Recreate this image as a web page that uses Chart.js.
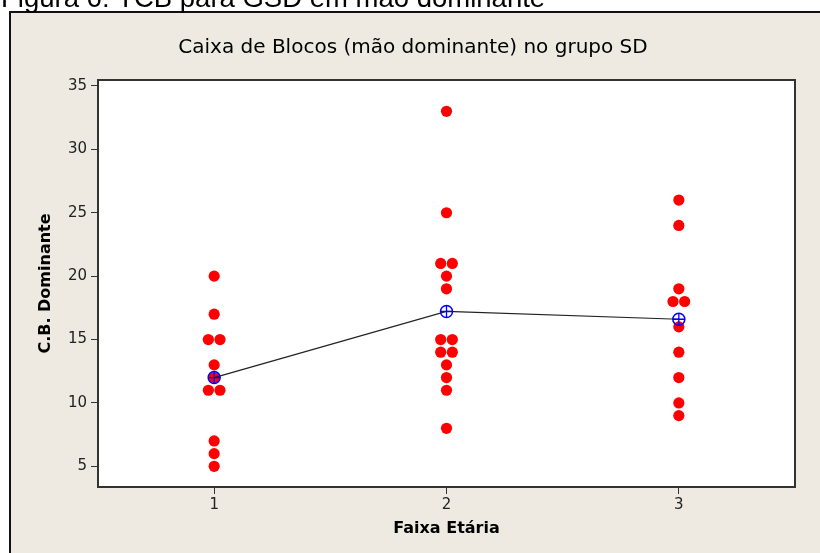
<!DOCTYPE html>
<html>
<head>
<meta charset="utf-8">
<script src="https://cdn.jsdelivr.net/npm/chart.js@4.4.0/dist/chart.umd.min.js"></script>
<style>
  html, body { margin: 0; padding: 0; background: #ffffff; }
  #wrap { width: 820px; height: 553px; position: relative; }
  canvas { display: block; }
</style>
</head>
<body>
<div id="wrap"><canvas id="c" width="820" height="553"></canvas></div>
<script>
// ---- data ----
const categories = [1, 2, 3];
const group1Values = [20, 17, 15, 15, 13, 12, 11, 11, 7, 6, 5];
const group2Values = [33, 25, 21, 21, 20, 19, 15, 15, 14, 14, 13, 12, 11, 8];
const group3Values = [26, 24, 19, 18, 18, 16, 14, 12, 10, 9];
const yTickValues = [5, 10, 15, 20, 25, 30, 35];
const xTickLabels = ['1', '2', '3'];

const captionText = 'Figura 6: TCB para GSD em mão dominante';
const chartTitle = 'Caixa de Blocos (mão dominante) no grupo SD';
const yAxisTitle = 'C.B. Dominante';
const xAxisTitle = 'Faixa Etária';

// ---- derived ----
const groups = [group1Values, group2Values, group3Values];
const means = groups.map(g => g.reduce((a, b) => a + b, 0) / g.length);

// side-by-side placement of equal values (dot-plot style)
const dupStep = 0.05;
const scatterPoints = [];
groups.forEach((vals, gi) => {
  const counts = {};
  vals.forEach(v => counts[v] = (counts[v] || 0) + 1);
  const seen = {};
  vals.forEach(v => {
    const k = counts[v];
    const i = seen[v] || 0;
    seen[v] = i + 1;
    scatterPoints.push({ x: categories[gi] + (i - (k - 1) / 2) * dupStep, y: v });
  });
});
const meanPoints = categories.map((c, i) => ({ x: c, y: means[i] }));

const FRAME_BG = '#EEEAE1';
const AXIS_COLOR = '#333333';

const framePlugin = {
  id: 'frame',
  beforeDraw(chart) {
    const ctx = chart.ctx;
    const W = chart.width, H = chart.height;
    ctx.save();
    ctx.fillStyle = '#ffffff';
    ctx.fillRect(0, 0, W, H);
    ctx.fillStyle = FRAME_BG;
    ctx.fillRect(10, 12, W - 10, H - 12);
    ctx.strokeStyle = '#111111';
    ctx.lineWidth = 2;
    ctx.beginPath();
    ctx.moveTo(10, H);
    ctx.lineTo(10, 12);
    ctx.lineTo(W, 12);
    ctx.stroke();
    // caption (cut at the top like the reference)
    ctx.fillStyle = '#000000';
    ctx.font = '27.5px "Liberation Sans", Arial, sans-serif';
    ctx.textBaseline = 'alphabetic';
    ctx.textAlign = 'left';
    ctx.fillText(captionText, 1, 7);
    // plot area background
    const a = chart.chartArea;
    ctx.fillStyle = '#ffffff';
    ctx.fillRect(a.left, a.top, a.right - a.left, a.bottom - a.top);
    // chart title
    ctx.fillStyle = '#000000';
    ctx.font = '20px "DejaVu Sans", sans-serif';
    ctx.textAlign = 'center';
    ctx.textBaseline = 'middle';
    ctx.fillText(chartTitle, 413, 48);
    ctx.restore();
  },
  afterDatasetsDraw(chart) {
    const ctx = chart.ctx;
    const a = chart.chartArea;
    ctx.save();
    ctx.strokeStyle = AXIS_COLOR;
    ctx.lineWidth = 2;
    ctx.beginPath();
    ctx.moveTo(a.left, a.top);
    ctx.lineTo(a.right, a.top);
    ctx.lineTo(a.right, a.bottom);
    ctx.stroke();
    ctx.restore();
  }
};

new Chart(document.getElementById('c'), {
  type: 'scatter',
  data: {
    datasets: [
      {
        label: 'mean cross',
        data: meanPoints,
        pointStyle: 'cross',
        pointRadius: 6,
        pointBorderColor: '#0000FF',
        pointBorderWidth: 1.3,
        showLine: false
      },
      {
        label: 'mean',
        data: meanPoints,
        showLine: true,
        borderColor: '#222222',
        borderWidth: 1.2,
        pointStyle: 'circle',
        pointRadius: 6,
        pointBackgroundColor: 'rgba(0,0,0,0)',
        pointBorderColor: '#0000FF',
        pointBorderWidth: 1.5,
        tension: 0
      },
      {
        label: 'values',
        data: scatterPoints,
        pointRadius: 5.6,
        pointBackgroundColor: '#FF0000',
        pointBorderWidth: 0,
        borderWidth: 0
      }
    ]
  },
  options: {
    responsive: false,
    animation: false,
    events: [],
    layout: { padding: { top: 80, left: 0, right: 25, bottom: 0 } },
    plugins: {
      legend: { display: false },
      tooltip: { enabled: false },
      title: { display: false }
    },
    scales: {
      x: {
        type: 'linear',
        min: 0.5,
        max: 3.5,
        afterFit(scale) { scale.height = 66; },
        afterBuildTicks(scale) { scale.ticks = categories.map(v => ({ value: v })); },
        ticks: {
          callback: (v) => xTickLabels[categories.indexOf(v)] ?? '',
          color: '#222222',
          font: { family: 'DejaVu Sans', size: 15 },
          padding: 2,
          maxRotation: 0
        },
        grid: { display: true, drawOnChartArea: false, drawTicks: true, tickLength: 7, color: AXIS_COLOR, lineWidth: 1 },
        border: { display: true, color: AXIS_COLOR, width: 2 },
        title: {
          display: true,
          text: xAxisTitle,
          color: '#000000',
          font: { family: 'DejaVu Sans', size: 16, weight: 'bold' },
          padding: { top: 0, bottom: 15 }
        }
      },
      y: {
        type: 'linear',
        min: 3.37,
        max: 35.47,
        afterFit(scale) { scale.width = 98; },
        afterBuildTicks(scale) { scale.ticks = yTickValues.map(v => ({ value: v })); },
        ticks: {
          color: '#222222',
          font: { family: 'DejaVu Sans', size: 15 },
          padding: 4
        },
        grid: { display: true, drawOnChartArea: false, drawTicks: true, tickLength: 7, color: AXIS_COLOR, lineWidth: 1 },
        border: { display: true, color: AXIS_COLOR, width: 2 },
        title: {
          display: true,
          text: yAxisTitle,
          color: '#000000',
          font: { family: 'DejaVu Sans', size: 16, weight: 'bold' },
          padding: { top: 36, bottom: 0 }
        }
      }
    }
  },
  plugins: [framePlugin]
});
</script>
</body>
</html>
